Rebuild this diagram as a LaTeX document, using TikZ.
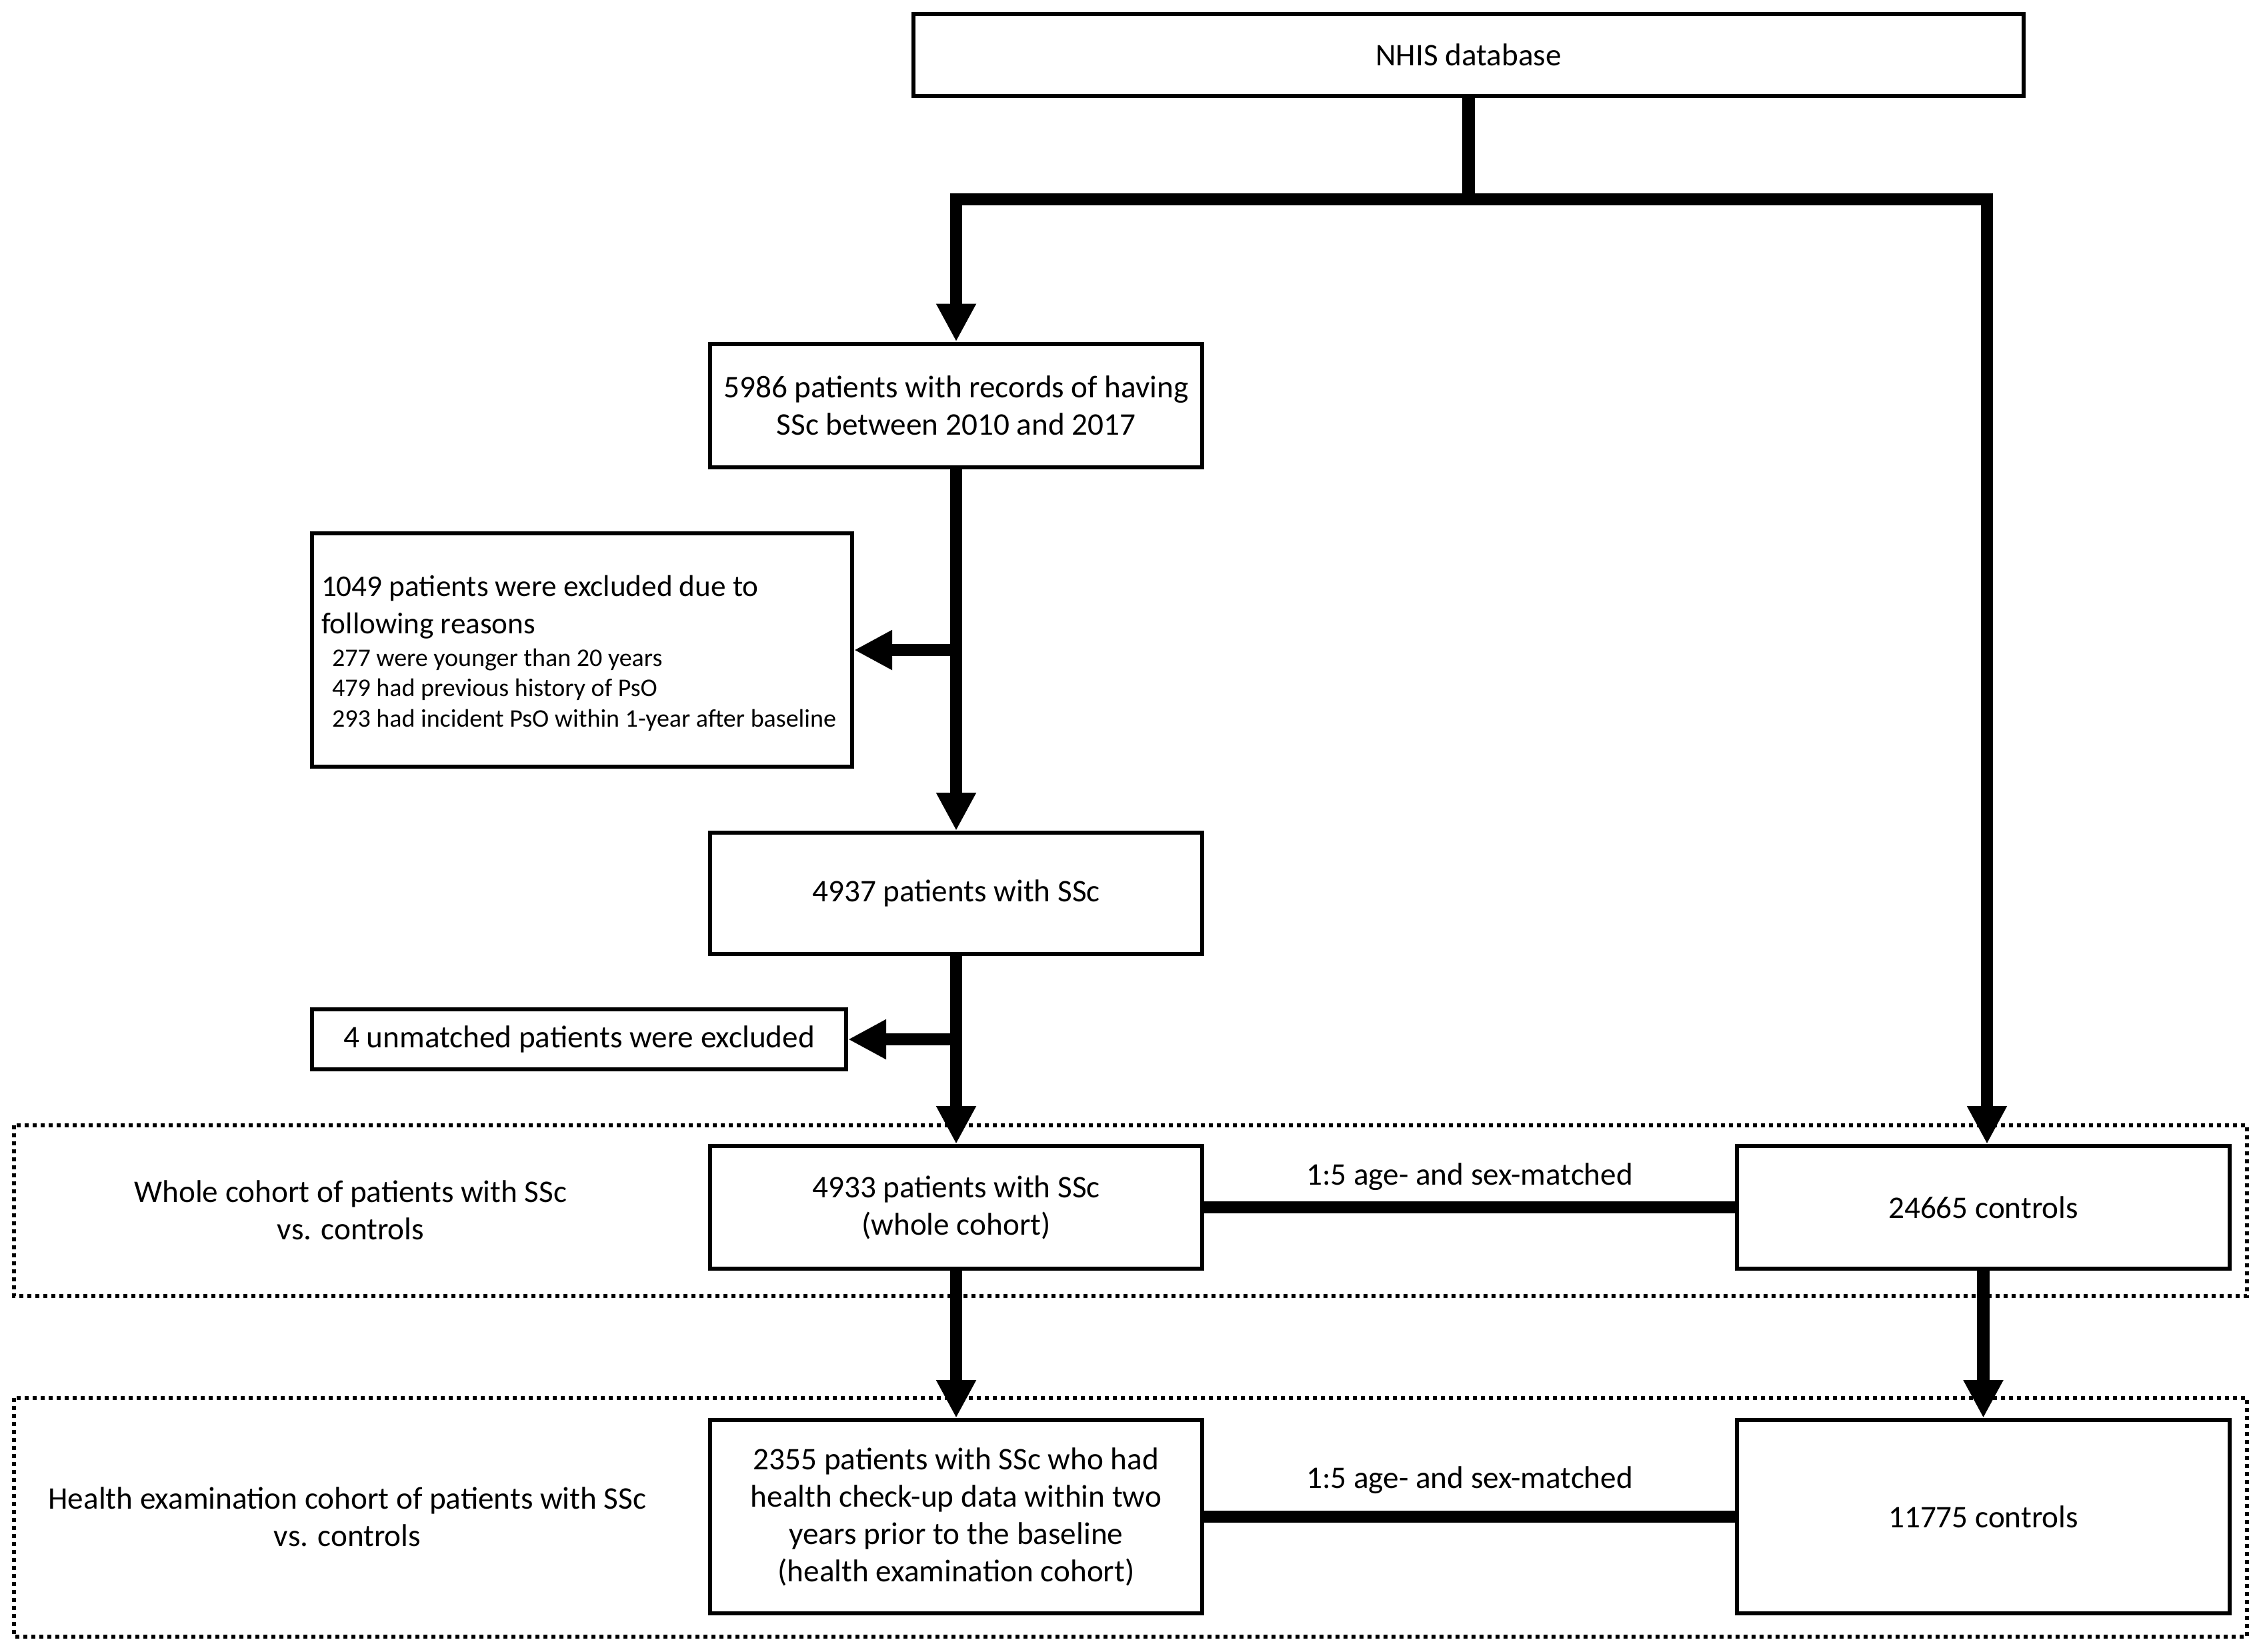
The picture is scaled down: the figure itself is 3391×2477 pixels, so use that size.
\documentclass[tikz,border=0pt]{standalone}
\usepackage{fontspec}
\setmainfont{Carlito}
\usetikzlibrary{arrows.meta}
\begin{document}
\begin{tikzpicture}[x=0.25pt,y=-0.25pt,
  box/.style={draw,line width=1.5pt,inner sep=0pt,align=center,fill=white,
    font=\fontsize{11.8}{14}\selectfont},
  lab/.style={inner sep=0pt,align=center,font=\fontsize{11.8}{14}\selectfont},
  conn/.style={line width=4.6pt,line join=miter},
  tip/.style={-{Triangle[length=14.25pt,width=14pt]}},
  frame/.style={line width=1.5pt,dash pattern=on 1.5pt off 1.5pt}]
\useasboundingbox (0,0) rectangle (3391,2477);
% frames
\draw[frame] (21,1688) rectangle (3370,1944);
\draw[frame] (21,2097) rectangle (3370,2455);
% boxes
\node[box,minimum width=416.25pt,minimum height=30.75pt] (nhis) at (2202.5,82.5) {NHIS database};
\node[box,minimum width=184.5pt,minimum height=46.25pt] (a) at (1434,608)
  {5986 patients with records of having\\SSc between 2010 and 2017};
\node[box,minimum width=202.5pt,minimum height=87.5pt,align=left,text width=195.5pt,inner xsep=3.5pt,
  font=\fontsize{11.3}{14}\selectfont] (b) at (873,975)
  {\spaceskip=0pt\xspaceskip=0pt\rule{0pt}{10.3pt}1049 patients were excluded due to\\following reasons\\[0.8pt]
   {\fontsize{9.5}{11.4}\selectfont\spaceskip=0pt\xspaceskip=0pt
   \hspace*{4pt}277 were younger than 20 years\\
   \hspace*{4pt}479 had previous history of PsO\\
   \hspace*{4pt}293 had incident PsO within 1-year after baseline\par}};
\node[box,minimum width=184.5pt,minimum height=45.5pt] (c) at (1434,1340) {4937 patients with SSc};
\node[box,minimum width=200.25pt,minimum height=22.5pt] (d) at (868.5,1559) {4 unmatched patients were excluded};
\node[box,minimum width=184.5pt,minimum height=46pt] (e) at (1434,1811)
  {4933 patients with SSc\\(whole cohort)};
\node[box,minimum width=184.75pt,minimum height=46pt] (f) at (2974.5,1811) {24665 controls};
\node[box,minimum width=184.5pt,minimum height=72.5pt] (g) at (1434,2275)
  {2355 patients with SSc who had\\health check-up data within two\\years prior to the baseline\\(health examination cohort)};
\node[box,minimum width=184.75pt,minimum height=72.5pt] (h) at (2974.5,2275) {11775 controls};
% labels
\node[lab] (l1) at (526,1815) {Whole cohort of patients with SSc\\vs. controls};
\node[lab] (l2) at (521,2275) {Health examination cohort of patients with SSc\\vs. controls};
\node[lab] (m1) at (2204,1765) {1:5 age- and sex-matched};
\node[lab] (m2) at (2204,2220) {1:5 age- and sex-matched};
% connectors
\coordinate (jl) at (1434,299);
\coordinate (jr) at (2980,299);
\coordinate (j) at (2202.5,299);
\draw[conn] (nhis.south) -- (j);
\draw[conn,{Triangle[length=14.25pt,width=14pt]}-{Triangle[length=14.25pt,width=14pt]}]
  (a.north) -- (jl) -- (jr) -- (jr |- f.north);
\draw[conn,tip] (a.south) -- (c.north);
\draw[conn,tip] (a.south |- b.east) -- (b.east);
\draw[conn,tip] (c.south) -- (e.north);
\draw[conn,tip] (c.south |- d.east) -- (d.east);
\draw[conn,tip] (e.south) -- (g.north);
\draw[conn,tip] (f.south) -- (h.north);
\draw[conn] (e.east) -- (f.west);
\draw[conn] (g.east) -- (h.west);
\end{tikzpicture}
\end{document}
